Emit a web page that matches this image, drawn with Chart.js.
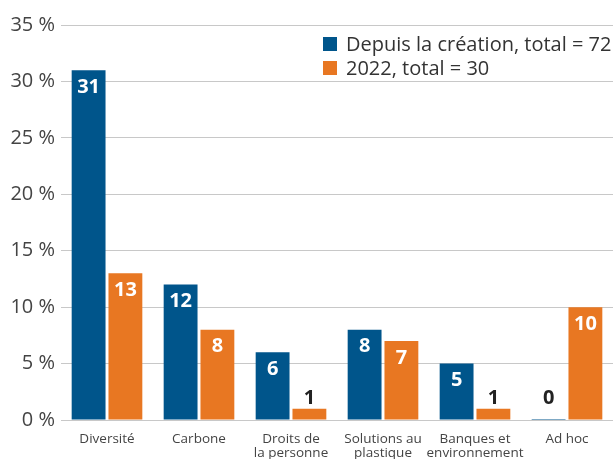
<!DOCTYPE html>
<html><head><meta charset="utf-8">
<script src="https://cdn.jsdelivr.net/npm/chart.js@4"></script>
<style>html,body{margin:0;padding:0;background:#fff;}#wrap{width:613px;height:459px;}</style>
</head><body><div id="wrap"><canvas id="c" width="613" height="459"></canvas></div>
<script>
const categories = [["Diversité"], ["Carbone"], ["Droits de", "la personne"], ["Solutions au", "plastique"], ["Banques et", "environnement"], ["Ad hoc"]];
const seriesNames = ["Depuis la création, total = 72", "2022, total = 30"];
const sinceCreation = [31, 12, 6, 8, 5, 0];
const year2022 = [13, 8, 1, 7, 1, 10];
const yTicks = [0, 5, 10, 15, 20, 25, 30, 35];
const BLUE = "#00558B", ORANGE = "#E87722";
const FONT = "'Open Sans', 'Noto Sans', sans-serif";

const labelPlugin = {
  id: 'vals',
  afterDatasetsDraw(chart) {
    const ctx = chart.ctx;
    const ys = chart.scales.y;
    ctx.save();
    ctx.font = "bold 20px " + FONT;
    ctx.textAlign = 'center';
    ctx.textBaseline = 'middle';
    chart.data.datasets.forEach((ds, di) => {
      const meta = chart.getDatasetMeta(di);
      meta.data.forEach((bar, i) => {
        const v = ds.data[i];
        const h = bar.base - bar.y;
        if (h > 30) {
          ctx.fillStyle = '#fff';
          ctx.fillText(String(v), bar.x, bar.y + 17);
        } else {
          ctx.fillStyle = '#222';
          const top = Math.min(bar.y, ys.getPixelForValue(1));
          ctx.fillText(String(v), bar.x, top - 10);
        }
      });
    });
    ctx.restore();
  }
};
const legendPlugin = {
  id: 'customLegend',
  afterDraw(chart) {
    const ctx = chart.ctx;
    ctx.save();
    ctx.font = "20px " + FONT;
    ctx.textBaseline = 'middle';
    ctx.textAlign = 'left';
    const cols = [BLUE, ORANGE];
    const ys = [44, 68];
    seriesNames.forEach((n, i) => {
      ctx.fillStyle = cols[i];
      ctx.fillRect(323, ys[i] - 7, 14, 14);
      ctx.fillStyle = '#333';
      ctx.fillText(n, 346, ys[i] + 1);
    });
    ctx.restore();
  }
};

new Chart(document.getElementById('c'), {
  type: 'bar',
  data: {
    labels: categories,
    datasets: [
      { label: seriesNames[0], data: sinceCreation, backgroundColor: BLUE, minBarLength: 1, categoryPercentage: 0.8, barPercentage: 0.92 },
      { label: seriesNames[1], data: year2022, backgroundColor: ORANGE, categoryPercentage: 0.8, barPercentage: 0.92 }
    ]
  },
  plugins: [labelPlugin, legendPlugin],
  options: {
    responsive: false,
    animation: false,
    layout: { padding: { top: 25, right: 0, left: 0, bottom: 0 } },
    plugins: { legend: { display: false }, tooltip: { enabled: false } },
    scales: {
      x: {
        grid: { display: false },
        border: { display: false },
        ticks: { color: '#444', font: { family: FONT, size: 13.5, lineHeight: 1.05 }, padding: 4, maxRotation: 0, autoSkip: false },
        afterFit(s) { s.height = 39; }
      },
      y: {
        min: 0, max: 35,
        afterBuildTicks(s) { s.ticks = yTicks.map(v => ({ value: v })); },
        grid: { color: '#c8c8c8', lineWidth: 1, drawTicks: false },
        border: { display: false },
        ticks: { color: '#444', font: { family: FONT, size: 20 }, padding: 6, callback: v => v + ' %' },
        afterFit(s) { s.width = 61; }
      }
    }
  }
});
</script></body></html>
